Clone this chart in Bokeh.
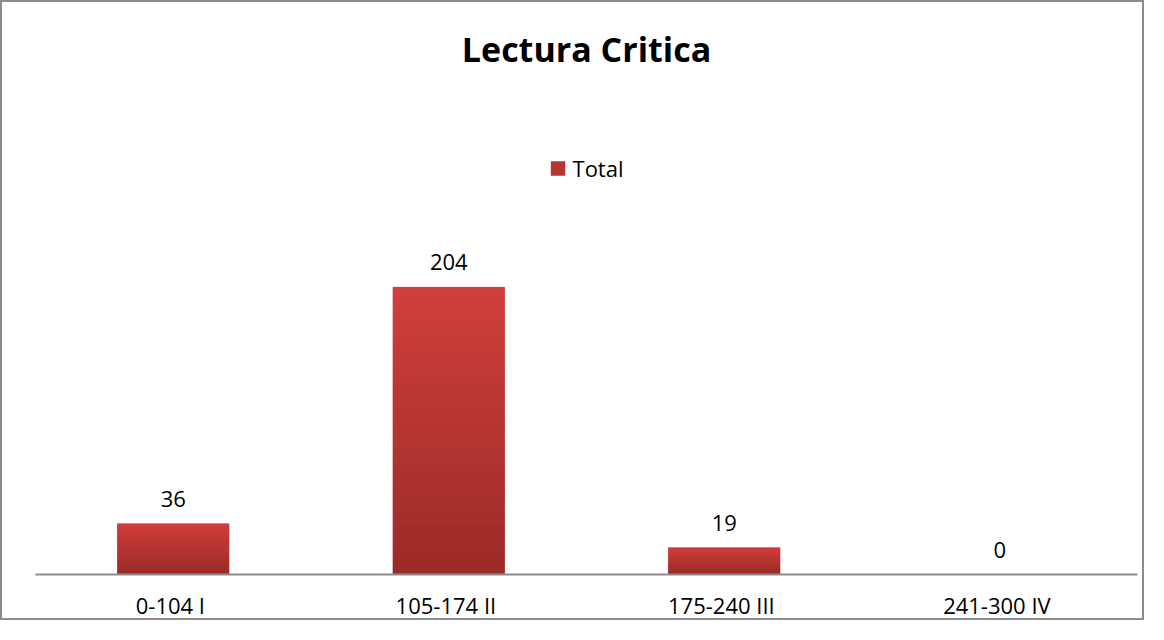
from bokeh.plotting import figure
from bokeh.models import ColumnDataSource, FactorRange, Range1d, LabelSet, Legend, LegendItem
from bokeh.embed import file_html
from bokeh.resources import INLINE
from bokeh.core.properties import value

# ---- data ----
categories = ["0-104  I", "105-174  II", "175-240  III", "241-300  IV"]
totals = [36, 204, 19, 0]
series_name = "Total"
title_text = "Lectura Critica"

FONT = "Open Sans"
TOP_RGB = (0xD0, 0x3F, 0x3C)
BOT_RGB = (0x9A, 0x2B, 0x28)
N_SLICES = 24

p = figure(
    x_range=FactorRange(*categories, range_padding=0),
    y_range=Range1d(0, 339.5),
    width=1144, height=620,
    output_backend="svg", toolbar_location=None,
    min_border_left=33, min_border_right=9,
    min_border_top=0, min_border_bottom=47,
)
p.styles = {"border": "2px solid #8c8c8c"}
p.background_fill_color = "white"
p.border_fill_color = "white"
p.outline_line_color = None
p.xgrid.grid_line_color = None
p.ygrid.grid_line_color = None
p.yaxis.visible = False

p.title.text = title_text
p.title.align = "center"
p.title.vertical_align = "top"
p.title.text_font = FONT
p.title.text_font_style = "bold"
p.title.text_font_size = "34px"
p.title.text_color = "black"
p.title.standoff = 46

# base bars (used for legend)
src = ColumnDataSource(dict(cat=categories, total=totals,
                            lbl=[str(v) for v in totals]))
base = p.vbar(x="cat", top="total", width=0.405, source=src,
              fill_color="#b83532", line_color=None)

# gradient overlay: slices of each bar
def mix(t):
    return "#%02x%02x%02x" % tuple(int(round(b + (a - b) * t)) for a, b in zip(TOP_RGB, BOT_RGB))

xs, bots, tops, cols = [], [], [], []
for c, v in zip(categories, totals):
    if v <= 0:
        continue
    for k in range(N_SLICES):
        xs.append(c)
        bots.append(v * k / N_SLICES)
        tops.append(v * (k + 1) / N_SLICES)
        cols.append(mix((k + 0.5) / N_SLICES))
grad = ColumnDataSource(dict(x=xs, bottom=bots, top=tops, color=cols))
p.vbar(x="x", bottom="bottom", top="top", width=0.405, source=grad,
       fill_color="color", line_color="color", line_width=0.5)

labels = LabelSet(x="cat", y="total", text="lbl", source=src,
                  y_offset=25, text_align="center", text_baseline="middle",
                  text_font=value(FONT), text_font_size="22px", text_color="black")
p.add_layout(labels)

legend = Legend(items=[LegendItem(label=series_name, renderers=[base])],
                location="top_center", orientation="horizontal",
                border_line_color=None, background_fill_alpha=0,
                label_text_font=FONT, label_text_font_size="22px",
                label_text_color="black",
                glyph_width=18, glyph_height=18, label_standoff=6,
                padding=0, margin=57, spacing=0)
p.add_layout(legend)

ax = p.xaxis[0]
ax.axis_line_color = "#8c8c8c"
ax.axis_line_width = 2
ax.major_tick_line_color = None
ax.minor_tick_line_color = None
ax.major_label_standoff = 9
ax.major_label_text_font = FONT
ax.major_label_text_font_size = "22px"
ax.major_label_text_color = "black"

open("out.html", "w").write(file_html(p, INLINE))
